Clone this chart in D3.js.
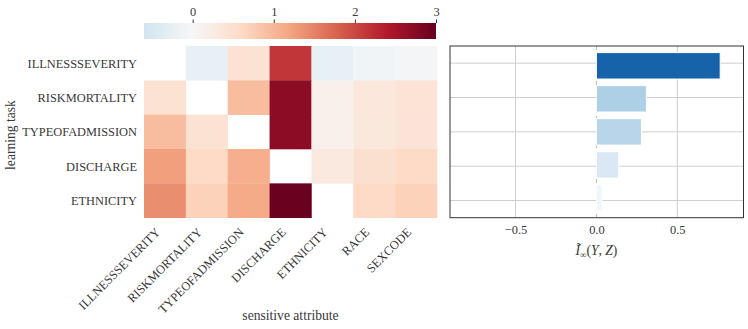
<!DOCTYPE html>
<html><head><meta charset="utf-8">
<script src="https://cdn.jsdelivr.net/npm/d3@7"></script>
<style>
html,body{margin:0;padding:0;background:#fff;}
svg{display:block;}
</style></head>
<body>
<svg id="chart" width="748" height="329"></svg>
<script>
const tasks = ["ILLNESSSEVERITY","RISKMORTALITY","TYPEOFADMISSION","DISCHARGE","ETHNICITY"];
const attributes = ["ILLNESSSEVERITY","RISKMORTALITY","TYPEOFADMISSION","DISCHARGE","ETHNICITY","RACE","SEXCODE"];
const heatValues = [
  [null, -0.25, 0.45, 2.15, -0.25, -0.1, -0.06],
  [0.45, null, 0.95, 2.7, 0.15, 0.35, 0.42],
  [0.95, 0.45, null, 2.7, 0.15, 0.32, 0.4],
  [1.25, 0.6, 1.1, null, 0.3, 0.5, 0.6],
  [1.4, 0.7, 1.15, 2.98, null, 0.6, 0.7]
];
const colorbarTicks = [0, 1, 2, 3];
const barValues = [0.765, 0.309, 0.278, 0.138, 0.035];
const barTicks = [-0.5, 0, 0.5];

const FONT = "'Liberation Serif', 'DejaVu Serif', serif";
const svg = d3.select("#chart");

// matplotlib RdBu_r, centred at 0 with range +-3
const rdbuR = ["#053061","#2166ac","#4393c3","#92c5de","#d1e5f0","#f7f7f7","#fddbc7","#f4a582","#d6604d","#b2182b","#67001f"];
const color = d3.scaleLinear()
  .domain(d3.range(11).map(i => -3 + i * 0.6))
  .range(rdbuR)
  .interpolate(d3.interpolateRgb)
  .clamp(true);

function styleText(sel, size) {
  return sel.attr("font-family", FONT).style("font-family", FONT)
    .style("font-size", size).attr("fill", "#383838").style("fill", "#383838");
}

// Heatmap
const hx = d3.scaleBand().domain(attributes).range([144, 437]);
const hy = d3.scaleBand().domain(tasks).range([46, 217.7]);

const cells = [];
tasks.forEach((t, i) => attributes.forEach((a, j) => {
  if (heatValues[i][j] !== null) cells.push({t, a, v: heatValues[i][j]});
}));
svg.append("g").selectAll("rect").data(cells).join("rect")
  .attr("x", d => hx(d.a)).attr("y", d => hy(d.t))
  .attr("width", hx.bandwidth() + 0.3).attr("height", hy.bandwidth() + 0.3)
  .attr("fill", d => color(d.v));

// y labels
styleText(svg.append("g").selectAll("text").data(tasks).join("text")
  .attr("x", 137).attr("y", d => hy(d) + hy.bandwidth() / 2)
  .attr("dy", "0.35em").attr("text-anchor", "end").text(d => d), "12.4px");

// x labels rotated
styleText(svg.append("g").selectAll("text").data(attributes).join("text")
  .attr("transform", d => `translate(${hx(d) + hx.bandwidth() / 2 - 4},${233}) rotate(-45)`)
  .attr("text-anchor", "end").text(d => d), "12.4px");

styleText(svg.append("text").attr("x", 290.5).attr("y", 320).attr("text-anchor", "middle")
  .text("sensitive attribute"), "13.6px");
styleText(svg.append("text").attr("transform", "translate(15,135) rotate(-90)")
  .attr("text-anchor", "middle").text("learning task"), "13.6px");

// Colorbar
const cb = d3.scaleLinear().domain([-0.6, 3]).range([144, 436]);
const defs = svg.append("defs");
const grad = defs.append("linearGradient").attr("id", "cbgrad");
d3.range(0, 1.0001, 0.02).forEach(p => {
  grad.append("stop").attr("offset", p).attr("stop-color", color(-0.6 + p * 3.6));
});
svg.append("rect").attr("x", 144).attr("y", 23).attr("width", 292).attr("height", 16)
  .attr("fill", "url(#cbgrad)");
const cbAxis = svg.append("g").attr("transform", "translate(0,23)")
  .call(d3.axisTop(cb).tickValues(colorbarTicks).tickSize(3.5).tickPadding(4).tickFormat(d3.format("d")));
cbAxis.attr("font-family", FONT);
cbAxis.select(".domain").remove();
cbAxis.selectAll("line").attr("stroke", "#333");
styleText(cbAxis.selectAll("text"), "12.4px");

// Bar chart
const bx = d3.scaleLinear().domain([-0.905, 0.909]).range([450, 743.5]);
const by = d3.scaleBand().domain(tasks).range([46, 217.7]).padding(0.2);
const bandC = d3.scaleBand().domain(tasks).range([46, 217.7]);
const blues = d3.scaleSequential(d3.interpolateBlues).domain([0, 0.95]);

const bg = svg.append("g");
bg.selectAll("line.h").data(tasks).join("line").attr("class", "h")
  .attr("x1", 450).attr("x2", 743.5)
  .attr("y1", d => bandC(d) + bandC.bandwidth() / 2).attr("y2", d => bandC(d) + bandC.bandwidth() / 2)
  .attr("stroke", "#cfcfcf").attr("stroke-width", 1);
bg.selectAll("line.v").data(barTicks.filter(t => t !== 0)).join("line").attr("class", "v")
  .attr("x1", d => bx(d)).attr("x2", d => bx(d)).attr("y1", 46).attr("y2", 217.7)
  .attr("stroke", "#cfcfcf").attr("stroke-width", 1);
bg.append("line").attr("x1", bx(0)).attr("x2", bx(0)).attr("y1", 46).attr("y2", 217.7)
  .attr("stroke", "#bbbbbb").attr("stroke-width", 1).attr("stroke-dasharray", "4,3");

bg.selectAll("rect.bar").data(barValues).join("rect").attr("class", "bar")
  .attr("x", d => bx(Math.min(0, d))).attr("width", d => Math.abs(bx(d) - bx(0)))
  .attr("y", (d, i) => by(tasks[i])).attr("height", by.bandwidth())
  .attr("fill", d => blues(d)).attr("stroke", "#ffffff").attr("stroke-width", 1);

bg.append("rect").attr("x", 450).attr("y", 46).attr("width", 293.5).attr("height", 171.7)
  .attr("fill", "none").attr("stroke", "#333").attr("stroke-width", 1);

const bxAxis = svg.append("g").attr("transform", "translate(0,217.7)")
  .call(d3.axisBottom(bx).tickValues(barTicks).tickSize(0).tickPadding(8)
    .tickFormat(d => d === 0 ? "0.0" : (d < 0 ? "\u2212" : "") + Math.abs(d).toFixed(1)));
bxAxis.attr("font-family", FONT);
bxAxis.select(".domain").remove();
styleText(bxAxis.selectAll("text"), "12.4px");

const xl = styleText(svg.append("text").attr("x", bx(0)).attr("y", 255).attr("text-anchor", "middle"), "13.6px");
xl.append("tspan").style("font-style", "italic").text("\u0128");
xl.append("tspan").attr("dy", 3).style("font-size", "9px").text("\u221e");
xl.append("tspan").attr("dy", -3).text("(");
xl.append("tspan").style("font-style", "italic").text("Y");
xl.append("tspan").text(", ");
xl.append("tspan").style("font-style", "italic").text("Z");
xl.append("tspan").text(")");
</script>
</body></html>
